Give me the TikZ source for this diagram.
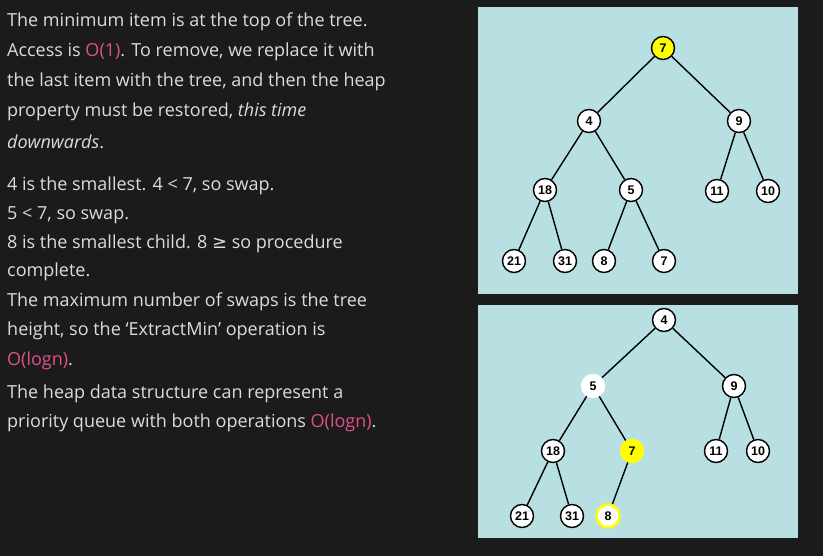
\documentclass[tikz,border=0pt]{standalone}
\usepackage{fontspec}
\setmainfont{Open Sans}
\newfontfamily\djv{DejaVu Sans}
\newfontfamily\nodefont{Liberation Sans}
\begin{document}
\begin{tikzpicture}[x=1pt,y=-1pt,
  txt/.style={anchor=west,inner sep=0pt,text=textgray,font=\fontsize{18}{20}\selectfont},
  hn/.style={circle,draw=black,line width=1.4pt,fill=white,minimum size=23pt,inner sep=0pt,font=\nodefont\bfseries\fontsize{12.5}{13}\selectfont},
  edge/.style={line width=1.4pt,black}]
\definecolor{bg}{HTML}{1B1B1B}
\definecolor{panel}{HTML}{B8DFE2}
\definecolor{textgray}{HTML}{DCDCDC}
\definecolor{pinkc}{HTML}{E0508A}
\definecolor{yel}{HTML}{FFFF00}
\fill[bg] (0,0) rectangle (823,556);
\useasboundingbox (0,0) rectangle (823,556);
\newcommand\pk[1]{\textcolor{pinkc}{#1}}
% text
\node[txt] (l1) at (7,22) {The minimum item is at the top of the tree.};
\node[txt] (l2) at (7,52) {Access is \pk{O(1)}. To remove, we replace it with};
\node[txt] (l3) at (7,82) {the last item with the tree, and then the heap};
\node[txt] (l4) at (7,112) {property must be restored, \textit{this time}};
\node[txt] (l5) at (7,142) {\textit{downwards}.};
\node[txt] (l6) at (7,186) {4 is the smallest. 4 < 7, so swap.};
\node[txt] (l7) at (7,215) {5 < 7, so swap.};
\node[txt] (l8) at (7,244) {8 is the smallest child. 8 {\djv ≥} so procedure};
\node[txt] (l9) at (7,272) {complete.};
\node[txt] (l10) at (7,302) {The maximum number of swaps is the tree};
\node[txt] (l11) at (7,331) {height, so the ‘ExtractMin’ operation is};
\node[txt] (l12) at (7,361) {\pk{O(logn)}.};
\node[txt] (l13) at (7,394) {The heap data structure can represent a};
\node[txt] (l14) at (7,423) {priority queue with both operations \pk{O(logn)}.};
% panels
\fill[panel] (478,7) rectangle (798,294);
\fill[panel] (478,305) rectangle (798,538);
% top tree
\node[hn,fill=yel] (a7) at (663,48) {7};
\node[hn] (a4) at (589,121) {4};
\node[hn] (a9) at (739,121) {9};
\node[hn] (a18) at (545,190) {18};
\node[hn] (a5) at (631,190) {5};
\node[hn] (a11) at (717,191) {11};
\node[hn] (a10) at (768,191) {10};
\node[hn] (a21) at (514,261) {21};
\node[hn] (a31) at (565,261) {31};
\node[hn] (a8) at (604,261) {8};
\node[hn] (a7b) at (664,261) {7};
\draw[edge] (a7)--(a4) (a7)--(a9) (a4)--(a18) (a4)--(a5) (a9)--(a11) (a9)--(a10)
  (a18)--(a21) (a18)--(a31) (a5)--(a8) (a5)--(a7b);
% bottom tree
\node[hn] (b4) at (664,320) {4};
\node[hn,draw=white] (b5) at (593,386) {5};
\node[hn] (b9) at (734,386) {9};
\node[hn] (b18) at (553,451) {18};
\node[hn,fill=yel,draw=yel] (b7) at (632,451) {7};
\node[hn] (b11) at (716,451) {11};
\node[hn] (b10) at (758,451) {10};
\node[hn] (b21) at (522,516) {21};
\node[hn] (b31) at (572,516) {31};
\node[hn,draw=yel,line width=2.5pt] (b8) at (608,516) {8};
\draw[edge] (b4)--(b5) (b4)--(b9) (b5)--(b18) (b5)--(b7) (b9)--(b11) (b9)--(b10)
  (b18)--(b21) (b18)--(b31) (b7)--(b8);
\end{tikzpicture}
\end{document}
